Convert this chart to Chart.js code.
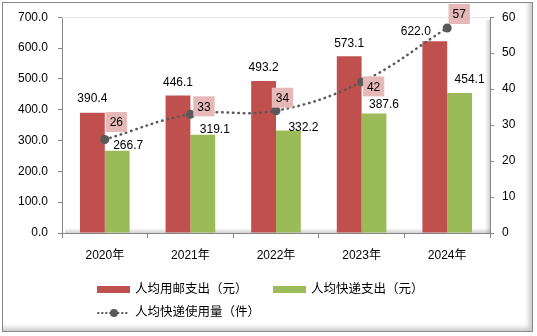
<!DOCTYPE html>
<html>
<head>
<meta charset="utf-8">
<script src="https://cdn.jsdelivr.net/npm/chart.js@4.4.1/dist/chart.umd.min.js"></script>
<style>
  html, body { margin: 0; padding: 0; background: #fff; }
  #frame {
    position: absolute; left: 2px; top: 2px; width: 529px; height: 328px;
    border: 1px solid #8a8a8a;
    box-shadow: inset -3px -3px 5px rgba(0,0,0,0.22);
  }
  #wrap { position: absolute; left: 0; top: 0; width: 537px; height: 336px; }
</style>
</head>
<body>
<div id="frame"></div>
<div id="wrap"><canvas id="chart" width="537" height="336"></canvas></div>
<script>
const years = ['2020年', '2021年', '2022年', '2023年', '2024年'];
const postalSpend = [390.4, 446.1, 493.2, 573.1, 622.0];
const expressSpend = [266.7, 319.1, 332.2, 387.6, 454.1];
const expressVolume = [26, 33, 34, 42, 57];

const FONT = '"Liberation Sans", Arial, "Noto Sans CJK SC", sans-serif';

// label nudges (px) so the labels sit where the original has them
const postalLabelShift = [[0, -14], [0, -13], [0, -13], [0, -13], [-19, -10]];
const expressLabelShift = [[11, -5], [12, -5], [15, -3], [10, -9], [10, -13]];
const volumeLabelShift = [[11.5, -17.5], [13.5, -8], [6.5, -13], [12, 4.5], [12, -14]];

const plotShade = {
  id: 'plotShade',
  beforeDatasetsDraw(chart) {
    const { ctx, chartArea: a } = chart;
    ctx.save();
    let g = ctx.createLinearGradient(a.right - 5, 0, a.right, 0);
    g.addColorStop(0, 'rgba(0,0,0,0)');
    g.addColorStop(1, 'rgba(0,0,0,0.18)');
    ctx.fillStyle = g;
    ctx.fillRect(a.right - 5, a.top + 3, 5, a.bottom - a.top - 3);
    g = ctx.createLinearGradient(0, a.bottom - 5, 0, a.bottom);
    g.addColorStop(0, 'rgba(0,0,0,0)');
    g.addColorStop(1, 'rgba(0,0,0,0.18)');
    ctx.fillStyle = g;
    ctx.fillRect(a.left + 3, a.bottom - 5, a.right - a.left - 3, 5);
    ctx.strokeStyle = '#e4e4e4';
    ctx.lineWidth = 1;
    ctx.beginPath();
    ctx.moveTo(a.left, a.top + 0.5);
    ctx.lineTo(a.right, a.top + 0.5);
    ctx.stroke();
    ctx.restore();
  }
};

const valueLabels = {
  id: 'valueLabels',
  afterDatasetsDraw(chart) {
    const ctx = chart.ctx;
    ctx.save();
    ctx.font = '12px ' + FONT;
    ctx.textAlign = 'center';
    ctx.textBaseline = 'middle';
    const shifts = [postalLabelShift, expressLabelShift, volumeLabelShift];
    chart.data.datasets.forEach((ds, i) => {
      const meta = chart.getDatasetMeta(i);
      meta.data.forEach((el, j) => {
        const x = el.x + shifts[i][j][0];
        const y = el.y + shifts[i][j][1];
        if (ds.type === 'line') {
          const txt = String(ds.data[j]);
          const w = ctx.measureText(txt).width + 8;
          ctx.fillStyle = '#e6b9b8';
          ctx.fillRect(x - w / 2, y - 10, w, 20);
          ctx.fillStyle = '#000';
          ctx.fillText(txt, x, y + 1);
        } else {
          ctx.fillStyle = '#000';
          ctx.fillText(ds.data[j].toFixed(1), x, y);
        }
      });
    });
    ctx.restore();
  }
};

const legendBox = {
  id: 'legendBox',
  afterDraw(chart) {
    const ctx = chart.ctx;
    const ds = chart.data.datasets;
    ctx.save();
    ctx.font = '12.5px ' + FONT;
    ctx.textAlign = 'left';
    ctx.textBaseline = 'middle';
    // row 1: the two bar series
    ctx.fillStyle = ds[0].backgroundColor;
    ctx.fillRect(97, 286, 33, 7);
    ctx.fillStyle = '#000';
    ctx.fillText(ds[0].label, 135, 290);
    ctx.fillStyle = ds[1].backgroundColor;
    ctx.fillRect(273, 286, 33, 7);
    ctx.fillStyle = '#000';
    ctx.fillText(ds[1].label, 311, 290);
    // row 2: the line series
    ctx.strokeStyle = ds[2].borderColor;
    ctx.lineWidth = 2;
    ctx.lineCap = 'round';
    ctx.setLineDash([0.5, 3.5]);
    ctx.beginPath();
    ctx.moveTo(98, 313);
    ctx.lineTo(130, 313);
    ctx.stroke();
    ctx.setLineDash([]);
    ctx.fillStyle = ds[2].pointBackgroundColor;
    ctx.beginPath();
    ctx.arc(114, 313, 4, 0, Math.PI * 2);
    ctx.fill();
    ctx.fillStyle = '#000';
    ctx.fillText(ds[2].label, 135, 313);
    ctx.restore();
  }
};

new Chart(document.getElementById('chart'), {
  type: 'bar',
  data: {
    labels: years,
    datasets: [
      {
        label: '人均用邮支出（元）',
        data: postalSpend,
        backgroundColor: '#c0504d',
        yAxisID: 'y',
        order: 1
      },
      {
        label: '人均快递支出（元）',
        data: expressSpend,
        backgroundColor: '#9bbb59',
        yAxisID: 'y',
        order: 1
      },
      {
        type: 'line',
        label: '人均快递使用量（件）',
        data: expressVolume,
        yAxisID: 'y1',
        borderColor: '#595959',
        borderWidth: 2.5,
        borderDash: [0.5, 5],
        borderCapStyle: 'round',
        tension: 0.4,
        pointRadius: 4.5,
        pointBackgroundColor: '#595959',
        pointBorderWidth: 0,
        order: 0
      }
    ]
  },
  options: {
    responsive: false,
    animation: false,
    categoryPercentage: 0.58,
    barPercentage: 1,
    layout: { padding: { top: 16, left: 0, right: 0, bottom: 0 } },
    plugins: {
      legend: { display: false },
      tooltip: { enabled: false }
    },
    scales: {
      x: {
        grid: { offset: true, drawOnChartArea: false, tickLength: 5, color: '#868686' },
        border: { color: '#868686' },
        ticks: { color: '#000', font: { family: FONT, size: 12 }, padding: 10 },
        afterFit: s => { s.height = 103; }
      },
      y: {
        position: 'left',
        min: 0, max: 700,
        grid: { drawOnChartArea: false, tickLength: 4, color: '#868686' },
        border: { color: '#868686' },
        ticks: {
          stepSize: 100, color: '#000', padding: 10,
          font: { family: FONT, size: 12 },
          callback: v => v.toFixed(1)
        },
        afterFit: s => { s.width = 62; }
      },
      y1: {
        position: 'right',
        min: 0, max: 60,
        grid: { drawOnChartArea: false, tickLength: 4, color: '#868686' },
        border: { color: '#868686' },
        ticks: { stepSize: 10, color: '#000', padding: 8, font: { family: FONT, size: 12 } },
        afterFit: s => { s.width = 47; }
      }
    }
  },
  plugins: [plotShade, valueLabels, legendBox]
});
</script>
</body>
</html>
